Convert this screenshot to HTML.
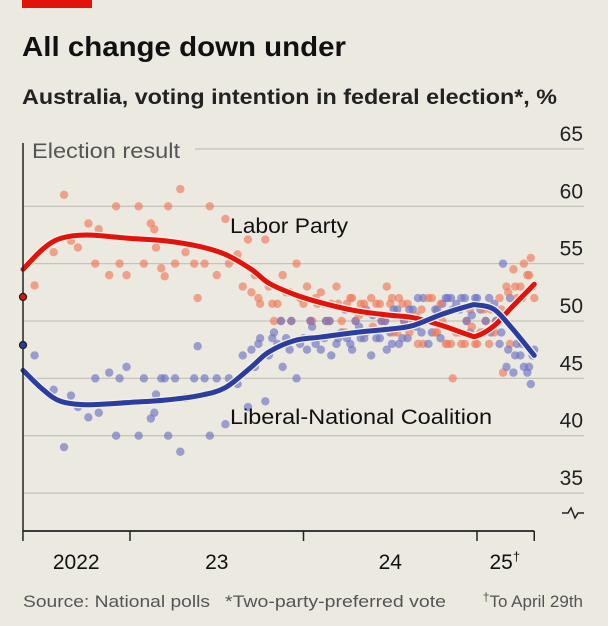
<!DOCTYPE html>
<html><head><meta charset="utf-8"><style>
html,body{margin:0;padding:0;background:#ebe9e0;}
svg{display:block;font-family:"Liberation Sans",sans-serif;}
</style></head><body>
<svg id="chart" width="608" height="626" viewBox="0 0 608 626">
<rect x="0" y="0" width="608" height="626" fill="#ebe9e0"/>
<rect x="22" y="0" width="70" height="8" fill="#e3120b"/>
<text x="22" y="56" font-size="28" font-weight="bold" fill="#111" textLength="324" lengthAdjust="spacingAndGlyphs">All change down under</text>
<text x="22" y="104" font-size="21" font-weight="bold" fill="#222" textLength="535" lengthAdjust="spacingAndGlyphs">Australia, voting intention in federal election*, %</text>
<g id="grid"></g>
<g id="dots"></g>
<g id="lines"></g>
<g id="axes"></g>
<text x="230" y="233" font-size="21" fill="#111" textLength="118" lengthAdjust="spacingAndGlyphs">Labor Party</text>
<text x="230" y="424" font-size="21" fill="#111" textLength="262" lengthAdjust="spacingAndGlyphs">Liberal-National Coalition</text>
<text x="23" y="607" font-size="17" fill="#555" textLength="187" lengthAdjust="spacingAndGlyphs">Source: National polls</text>
<text x="225" y="607" font-size="17" fill="#555" textLength="221" lengthAdjust="spacingAndGlyphs">*Two-party-preferred vote</text>
<text x="583" y="607" font-size="17" fill="#555" text-anchor="end"><tspan font-size="12" dy="-6">†</tspan><tspan dy="6">To April 29th</tspan></text>
</svg>
<script>
const yTicks = [35, 40, 45, 50, 55, 60, 65];
const yearTicks = [2022.383, 2023, 2024, 2025, 2025.33];
const yearLabels = ["2022", "23", "24", "25"];
const yearLabelPos = [2022.69, 2023.5, 2024.5, 2025.16];
const electionLabor = 52.1;
const electionCoalition = 47.9;
const pollDates = [2022.45,2022.56,2022.62,2022.66,2022.70,2022.76,2022.80,2022.82,2022.88,2022.92,2022.94,2022.98,2023.05,2023.08,2023.12,2023.14,2023.15,2023.18,2023.20,2023.22,2023.26,2023.29,2023.32,2023.37,2023.39,2023.43,2023.46,2023.50,2023.55,2023.57,2023.62,2023.65,2023.68,2023.70,2023.72,2023.75,2023.78,2023.80,2023.83,2023.85,2023.88,2023.90,2023.93,2023.96,2023.98,2024.02,2024.05,2024.08,2024.10,2024.13,2024.16,2024.19,2024.22,2024.25,2024.28,2024.30,2024.33,2024.36,2024.39,2024.42,2024.45,2024.48,2024.50,2024.52,2024.55,2024.58,2024.60,2024.63,2024.66,2024.68,2024.71,2024.74,2024.77,2024.80,2024.83,2024.86,2024.88,2024.91,2024.94,2024.96,2024.99,2025.02,2025.05,2025.08,2025.10,2025.13,2025.15,2025.17,2025.19,2025.21,2025.23,2025.25,2025.27,2025.29,2025.31,2025.32,2025.33,
 2023.74,2023.82,2023.87,2023.92,2024.0,2024.04,2024.07,2024.12,2024.15,2024.2,2024.24,2024.27,2024.32,2024.35,2024.4,2024.44,2024.47,2024.51,2024.54,2024.57,2024.61,2024.65,2024.69,2024.72,2024.76,2024.79,2024.82,2024.85,2024.9,2024.93,2024.97,2025.0,2025.04,2025.07,2025.11,2025.14,2025.18,2025.22,2025.26,2025.3];
const laborPolls = [53.1,56,61,57,56.4,58.5,55,58,54,60,55,54,60,55,58.5,58,56.4,54.6,53.9,60,55,61.5,56,55,52,55,60,54,58.9,55,55.8,53,57.1,52.5,54,51.5,57.1,53,50,51.5,54,52.5,50,55,52,53,50,51.5,52.5,50,51.5,53,50,51.5,52,50,51.5,49,52,51.5,50,53,51.5,49,52,50,51.5,50,48,51,50,52,49,50,48,45,49,48,50,51,48,49,50,51,49,52,45.5,53,48,54.5,52,53,55,54,55.5,53,52,
 52,51.5,50,52.5,51.5,50,52,51.5,50,51.5,49,52,50.5,51.5,49.5,51.5,50,52,49,51.5,49,50.5,48,52,49,51.5,48,48,49,48,49.5,48,51,48,50,51,52.5,53,52,54];
const coalitionPolls = [47,44,39,43.5,42.5,41.6,45,42,45.5,40,45,46,40,45,41.5,42,43.6,45,45,40,45,38.6,43.3,45,47.8,45,40,45,41,45,44.5,47,42.5,47.5,46,48.5,43,47,49,48,46,48.5,50,45,48,47.5,49.5,48.5,47.5,50,47,48,49,48.5,47.5,50,48.5,51,47,48.5,50,47.5,49,51,48,50,48.5,51,52,49,50,49,51,51.5,52,51,51.5,52,50,49,52,51,50,49,51.5,48,55,46,52,45.5,48,47,46,45.5,44.5,47,47.5,
 48,48.5,50,47.5,48.5,50,48,48.5,50,48.5,51,48,49.5,48.5,50.5,48.5,50,48,51,48.5,51,49.5,52,48,51,48.5,52,52,51,52,50.5,52,49,52,50,49,47.5,47,48,46];
const trendDates = [2022.383,2022.5,2022.6,2022.75,2023.0,2023.2,2023.4,2023.55,2023.7,2023.8,2023.95,2024.1,2024.3,2024.5,2024.63,2024.8,2024.95,2025.0,2025.1,2025.2,2025.33];
const laborTrend = [54.5,56.3,57.2,57.5,57.2,57.0,56.5,55.8,54.5,53.3,52.3,51.6,50.9,50.5,50.3,49.6,48.8,48.7,49.6,51.2,53.2];
const coalitionTrend = [45.7,44.0,43.0,42.7,42.9,43.1,43.5,44.2,46.0,47.3,48.3,48.6,49.0,49.3,49.6,50.6,51.3,51.4,51.0,49.4,47.0];

const NS = "http://www.w3.org/2000/svg";
function xS(t){ return 130 + (t - 2023) * 173.5; }
function yS(v){ return 321 - (v - 50) * 11.47; }
function mk(tag, attrs, parent){
  const e = document.createElementNS(NS, tag);
  for (const k in attrs) e.setAttribute(k, attrs[k]);
  parent.appendChild(e);
  return e;
}
const grid = document.getElementById('grid');
const dots = document.getElementById('dots');
const lines = document.getElementById('lines');
const axes = document.getElementById('axes');

yTicks.forEach(function(v){
  const y = yS(v);
  const x1 = v === 65 ? 195 : 23;
  const g = mk('line', {x1: x1, x2: 584, y1: y, y2: y, stroke: '#c6c4bc', 'stroke-width': 1.3}, grid);
  
  
  const t = mk('text', {x: 583, y: y - 8, 'font-size': 21, fill: '#222', 'text-anchor': 'end'}, grid);
  t.textContent = v;
  
  
});
const el = mk('text', {x: 32, y: 158, 'font-size': 21, fill: '#555', textLength: 148, lengthAdjust: 'spacingAndGlyphs'}, grid);
el.textContent = 'Election result';


const br = mk('path', {d: 'M562 513 h6 l3 -5 l4 10 l3 -5 h6', fill: 'none', stroke: '#222', 'stroke-width': 1.5}, grid);



pollDates.forEach(function(t, i){
  const c1 = mk('circle', {cx: xS(t), cy: yS(laborPolls[i]), r: 4.2, fill: '#f07a5a', 'fill-opacity': 0.65}, dots);
  
  
  const c2 = mk('circle', {cx: xS(t), cy: yS(coalitionPolls[i]), r: 4.2, fill: '#6f73c4', 'fill-opacity': 0.65}, dots);
  
  
});

function smoothPath(xs, ys){
  const p = xs.map(function(t, i){ return [xS(t), yS(ys[i])]; });
  let d = 'M' + p[0][0] + ' ' + p[0][1];
  for (let i = 0; i < p.length - 1; i++){
    const p0 = p[i-1] || p[i], p1 = p[i], p2 = p[i+1], p3 = p[i+2] || p2;
    const c1x = p1[0] + (p2[0]-p0[0])/6, c1y = p1[1] + (p2[1]-p0[1])/6;
    const c2x = p2[0] - (p3[0]-p1[0])/6, c2y = p2[1] - (p3[1]-p1[1])/6;
    d += ' C' + c1x + ' ' + c1y + ' ' + c2x + ' ' + c2y + ' ' + p2[0] + ' ' + p2[1];
  }
  return d;
}
const ld = smoothPath(trendDates, laborTrend);
const cd = smoothPath(trendDates, coalitionTrend);
const lo = mk('path', {d: ld, fill: 'none', stroke: '#f3f1ea', 'stroke-width': 7.5, 'stroke-linecap': 'round'}, lines);


const ll = mk('path', {d: ld, fill: 'none', stroke: '#e3120b', 'stroke-width': 5, 'stroke-linecap': 'round'}, lines);


const co = mk('path', {d: cd, fill: 'none', stroke: '#f3f1ea', 'stroke-width': 7.5, 'stroke-linecap': 'round'}, lines);


const cl = mk('path', {d: cd, fill: 'none', stroke: '#2b3d9e', 'stroke-width': 5, 'stroke-linecap': 'round'}, lines);



const la = mk('line', {x1: 23, x2: 23, y1: 143, y2: 531, stroke: '#222', 'stroke-width': 1.5}, axes);


const xa = mk('line', {x1: 23, x2: xS(2025.33), y1: 531, y2: 531, stroke: '#222', 'stroke-width': 1.8}, axes);


yearTicks.forEach(function(t){
  const tk = mk('line', {x1: xS(t), x2: xS(t), y1: 531, y2: 541, stroke: '#222', 'stroke-width': 1.5}, axes);
  
  
});
yearLabels.forEach(function(lab, i){
  const t = mk('text', {x: xS(yearLabelPos[i]), y: 569, 'font-size': 21, fill: '#111', 'text-anchor': 'middle'}, axes);
  t.textContent = lab;
  if (i === 3){
    const s = mk('tspan', {'font-size': 13, dy: -8}, t);
    s.textContent = '†';
  }
  
  
});
const e1 = mk('circle', {cx: 23, cy: yS(electionLabor), r: 3.5, fill: '#e3120b', stroke: '#222', 'stroke-width': 1.3}, axes);


const e2 = mk('circle', {cx: 23, cy: yS(electionCoalition), r: 3.5, fill: '#2b3d9e', stroke: '#222', 'stroke-width': 1.3}, axes);


</script>
</body></html>
